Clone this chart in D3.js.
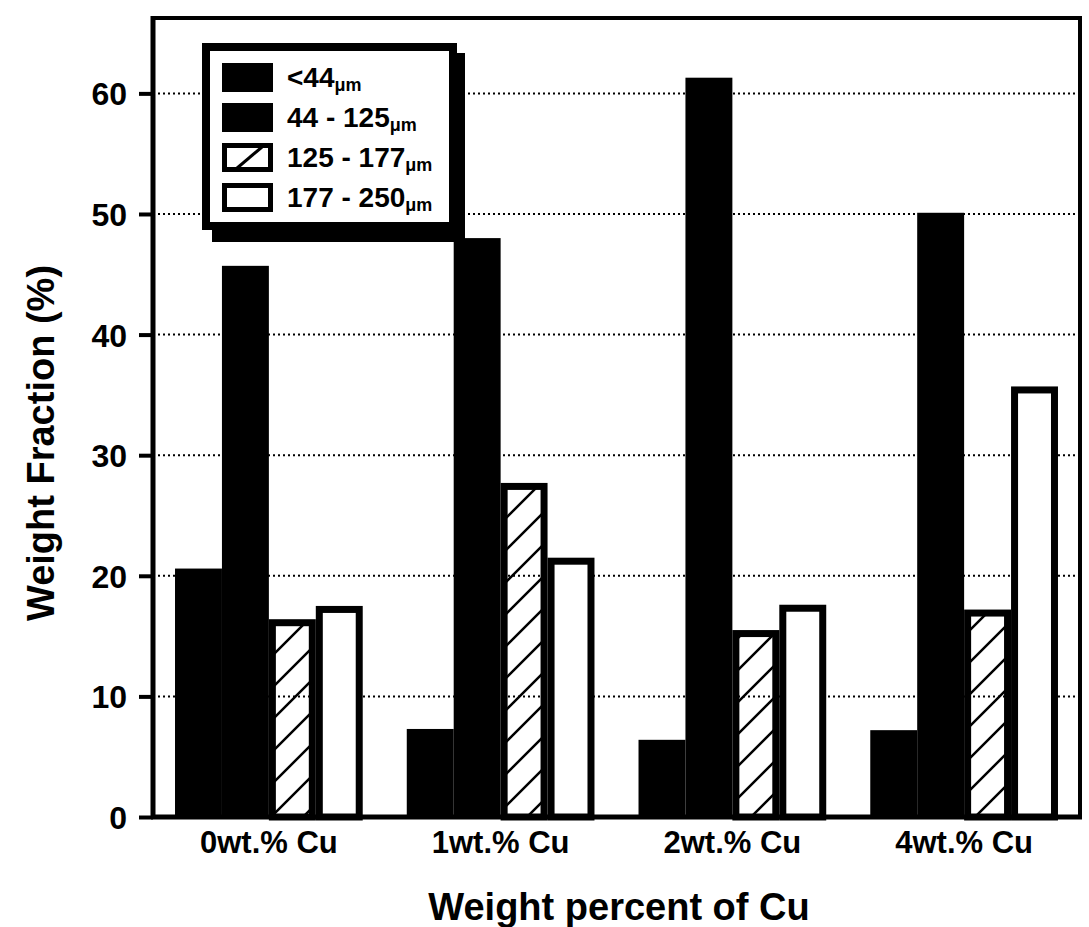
<!DOCTYPE html>
<html lang="en">
<head>
    <meta charset="UTF-8">
    <title>Weight fraction by Cu content</title>
    <style>
        body { margin: 0; background: #fff; }
        text { font-family: "Liberation Sans", Arial, sans-serif; font-weight: bold; fill: #000; }
        .grid line { stroke: #000; stroke-width: 2; stroke-dasharray: 2,3; }
    </style>
</head>
<body>

<svg width="1089" height="927"></svg>

<script src="https://cdn.jsdelivr.net/npm/d3@7"></script>

<script>
    // data
    var categories = ["0wt.% Cu", "1wt.% Cu", "2wt.% Cu", "4wt.% Cu"];
    var seriesNames = ["<44", "44 - 125", "125 - 177", "177 - 250"];
    var under44 = [20.6, 7.3, 6.4, 7.2];
    var from44to125 = [45.7, 48.0, 61.3, 50.1];
    var from125to177 = [16.4, 27.7, 15.5, 17.2];
    var from177to250 = [17.5, 21.5, 17.6, 35.7];
    var yTicks = [0, 10, 20, 30, 40, 50, 60];

    var seriesValues = [under44, from44to125, from125to177, from177to250];
    var fills = ["solid", "solid", "hatch", "open"];

    var svg = d3.select("svg");
    // note: "top" is reserved on window, so use plot* names
    var plotLeft = 153, plotRight = 1080, plotTop = 18, plotBottom = 817;

    var x = d3.scaleBand()
        .domain(categories)
        .range([plotLeft, plotRight])
        .paddingInner(0.19)
        .paddingOuter(0.095);

    var xs = d3.scaleBand()
        .domain(d3.range(seriesNames.length))
        .range([0, x.bandwidth()]);

    var y = d3.scaleLinear()
        .domain([0, 66.25])
        .range([plotBottom, plotTop]);

    // hatch pattern
    var defs = svg.append("defs");
    defs.append("pattern")
        .attr("id", "hatch")
        .attr("patternUnits", "userSpaceOnUse")
        .attr("width", 32).attr("height", 32)
        .append("path")
        .attr("d", "M0,32 L32,0 M-4,4 L4,-4 M28,36 L36,28")
        .attr("stroke", "#000")
        .attr("stroke-width", 2.5);

    // dotted grid lines
    svg.append("g").attr("class", "grid")
        .selectAll("line")
        .data(yTicks.filter(d => d > 0))
        .join("line")
        .attr("x1", plotLeft).attr("x2", plotRight)
        .attr("y1", d => y(d)).attr("y2", d => y(d));

    // bars
    var sw = 7;
    var groups = svg.append("g")
        .selectAll("g")
        .data(seriesValues)
        .join("g");

    groups.each(function(vals, si) {
        var g = d3.select(this);
        var kind = fills[si];
        var inset = kind == "solid" ? 0 : sw / 2;
        g.selectAll("rect")
            .data(vals)
            .join("rect")
            .attr("x", (d, i) => x(categories[i]) + xs(si) + inset)
            .attr("width", xs.bandwidth() - 2 * inset)
            .attr("y", d => y(d) + inset)
            .attr("height", d => y(0) - y(d) - inset)
            .attr("fill", kind == "solid" ? "#000" : kind == "hatch" ? "url(#hatch)" : "#fff")
            .attr("stroke", kind == "solid" ? "none" : "#000")
            .attr("stroke-width", sw);
    });

    // y axis
    var yAxis = svg.append("g")
        .attr("transform", `translate(${plotLeft}, 0)`)
        .call(d3.axisLeft(y).tickValues(yTicks).tickSize(14).tickSizeOuter(0).tickPadding(12));
    yAxis.select(".domain").remove();
    yAxis.selectAll(".tick line").attr("stroke", "#000").attr("stroke-width", 4);
    yAxis.selectAll(".tick text")
        .style("font-size", "32px")
        .attr("dy", "0.36em");

    // frame
    var frame = svg.append("g").attr("stroke", "#000").attr("fill", "none");
    frame.append("line").attr("x1", plotLeft).attr("x2", plotLeft).attr("y1", plotTop - 2).attr("y2", plotBottom + 2).attr("stroke-width", 5);
    frame.append("line").attr("x1", plotLeft - 2).attr("x2", plotRight + 2).attr("y1", plotBottom).attr("y2", plotBottom).attr("stroke-width", 5);
    frame.append("line").attr("x1", plotLeft).attr("x2", plotRight + 2).attr("y1", plotTop).attr("y2", plotTop).attr("stroke-width", 4);
    frame.append("line").attr("x1", plotRight).attr("x2", plotRight).attr("y1", plotTop).attr("y2", plotBottom).attr("stroke-width", 4);

    // category labels
    svg.append("g")
        .selectAll("text")
        .data(categories)
        .join("text")
        .attr("x", d => x(d) + x.bandwidth() / 2)
        .attr("y", 853)
        .attr("text-anchor", "middle")
        .style("font-size", "31px")
        .text(d => d);

    // axis titles
    svg.append("text")
        .attr("x", 619).attr("y", 920)
        .attr("text-anchor", "middle")
        .style("font-size", "38px")
        .text("Weight percent of Cu");

    svg.append("text")
        .attr("transform", "translate(54, 443) rotate(-90)")
        .attr("text-anchor", "middle")
        .style("font-size", "38px")
        .text("Weight Fraction (%)");

    // legend
    var legend = svg.append("g");
    legend.append("rect")
        .attr("x", 212).attr("y", 53).attr("width", 253).attr("height", 189)
        .attr("fill", "#000");
    legend.append("rect")
        .attr("x", 206).attr("y", 47).attr("width", 247).attr("height", 179)
        .attr("fill", "#fff").attr("stroke", "#000").attr("stroke-width", 8);

    var rows = legend.selectAll("g.row")
        .data(seriesNames)
        .join("g")
        .attr("class", "row")
        .attr("transform", (d, i) => `translate(222, ${63 + i * 40})`);

    rows.each(function(name, i) {
        var r = d3.select(this);
        if (fills[i] == "solid") {
            r.append("rect").attr("width", 51).attr("height", 29).attr("fill", "#000");
        } else {
            r.append("rect")
                .attr("x", 2.5).attr("y", 2.5).attr("width", 46).attr("height", 24)
                .attr("fill", "#fff").attr("stroke", "#000").attr("stroke-width", 5);
            if (fills[i] == "hatch") {
                r.append("line")
                    .attr("x1", 14).attr("y1", 26).attr("x2", 40).attr("y2", 4)
                    .attr("stroke", "#000").attr("stroke-width", 3);
            }
        }
        var t = r.append("text")
            .attr("x", 65).attr("y", 24)
            .style("font-size", "28px");
        t.append("tspan").text(name);
        t.append("tspan").attr("dy", 4).style("font-size", "18px").text("μm");
    });
</script>
</body>
</html>
